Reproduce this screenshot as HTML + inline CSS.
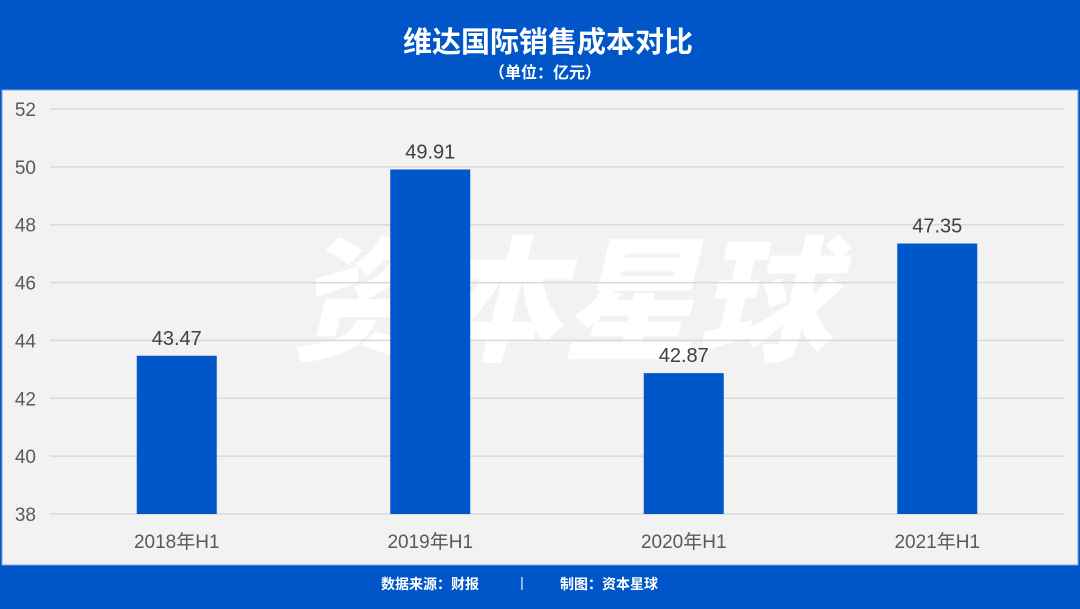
<!DOCTYPE html>
<html><head><meta charset="utf-8">
<style>
body{margin:0;width:1080px;height:604px;background:#0056c8;overflow:hidden;font-family:"Liberation Sans","Noto Sans CJK SC",sans-serif;}
</style></head><body>
<svg width="1080" height="604">
<rect x="0" y="0" width="1080" height="604" fill="#0056c8"/>
<text x="548" y="52" text-anchor="middle" font-size="29" font-weight="bold" fill="#fff" font-family="Liberation Sans,Noto Sans CJK SC,sans-serif">维达国际销售成本对比</text>
<text x="545" y="78" text-anchor="middle" font-size="16" font-weight="bold" fill="#fff" font-family="Liberation Sans,Noto Sans CJK SC,sans-serif">（单位：亿元）</text>
<rect x="2" y="90" width="1076" height="475" fill="#f2f2f2" stroke="#7fa6e0" stroke-width="1"/>
<text x="562" y="350" text-anchor="middle" font-size="135" font-weight="900" font-style="italic" fill="#ffffff" font-family="Noto Sans CJK SC,sans-serif">资本星球</text>
<g id="grid"></g><g id="bars"></g>
<text x="430" y="589" text-anchor="middle" font-size="14" fill="#fff" font-weight="bold" font-family="Liberation Sans,Noto Sans CJK SC,sans-serif">数据来源：财报</text>
<text x="522" y="587" text-anchor="middle" font-size="14" fill="#fff">|</text>
<text x="609" y="589" text-anchor="middle" font-size="14" fill="#fff" font-weight="bold" font-family="Liberation Sans,Noto Sans CJK SC,sans-serif">制图：资本星球</text>
</svg>
<script>
const categories=["2018年H1","2019年H1","2020年H1","2021年H1"];
const values=[43.47,49.91,42.87,47.35];
const yTicks=[38,40,42,44,46,48,50,52];
const NS="http://www.w3.org/2000/svg";
const y0=514,y1=109,vmin=38,vmax=52;
function y(v){return y0-(v-vmin)/(vmax-vmin)*(y0-y1);}
const left=50,right=1064,band=(right-left)/categories.length;
function x(i){return left+band*(i+0.5);}
const grid=document.getElementById('grid'),bars=document.getElementById('bars');
function mk(tag,attrs,parent,txt){const e=document.createElementNS(NS,tag);for(const k in attrs)e.setAttribute(k,attrs[k]);if(txt!==undefined)e.textContent=txt;parent.appendChild(e);return e;}
yTicks.forEach(t=>{
 const l=mk('line',{x1:left,x2:right,y1:y(t),y2:y(t),stroke:'#d9d9d9','stroke-width':1.5},grid);
 
 
 const tx=mk('text',{x:36,y:y(t)+7,'text-anchor':'end','font-size':19,fill:'#595959'},grid,String(t));
 
 
});
categories.forEach((c,i)=>{
 const r=mk('rect',{x:x(i)-40,y:y(values[i]),width:80,height:y0-y(values[i]),fill:'#0057c9'},bars);
 
 
 const v=mk('text',{x:x(i),y:y(values[i])-11,'text-anchor':'middle','font-size':20,fill:'#404040'},bars,values[i].toFixed(2));
 
 
 const cl=mk('text',{x:x(i),y:548,'text-anchor':'middle','font-size':19,fill:'#595959','font-family':'Liberation Sans,Noto Sans CJK SC,sans-serif'},bars,c);
 
 
});
</script>
</body></html>
